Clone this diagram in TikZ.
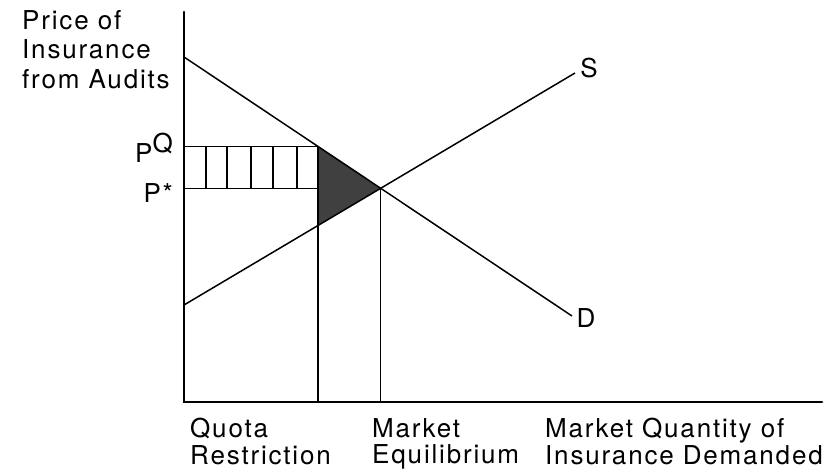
\documentclass[tikz,border=0pt]{standalone}
\usepackage{fontspec}
\setmainfont{TeX Gyre Heros}[LetterSpace=7]
\begin{document}
\begin{tikzpicture}[x=1pt, y=-1pt,
    font=\fontsize{26}{29.5}\selectfont,
    axis/.style={line width=2.6pt, line cap=round},
    curve/.style={line width=1.5pt},
    lbl/.style={inner sep=0pt, align=left},
    tag/.style={inner sep=0pt}
  ]
  \useasboundingbox (0,0) rectangle (835,470);

  % axes and curves
  \coordinate (top) at (184,12);
  \coordinate (origin) at (184,402);
  \coordinate (right) at (822,402);
  \coordinate (dA) at (184,57);
  \coordinate (dB) at (572,316);
  \coordinate (sA) at (184,305);
  \coordinate (sB) at (575,73);
  \coordinate (qx) at (318,0);
  \coordinate (eq) at (intersection of dA--dB and sA--sB);
  \coordinate (qt) at (intersection of dA--dB and qx--origin -| qx);
  \coordinate (qb) at (intersection of sA--sB and qx--origin -| qx);
  \coordinate (pq) at (origin |- qt);
  \coordinate (ps) at (origin |- eq);

  % deadweight triangle
  \fill[black!75] (qt) -- (eq) -- (qb) -- cycle;

  % quota rent box
  \draw[curve] (pq) -- (qt);
  \draw[curve] (ps) -- (ps -| qt);
  \foreach \x in {206,227,251,273,297} {
    \coordinate (h) at (\x,0);
    \draw[curve] (h |- qt) -- (h |- eq);
  }

  \draw[curve] (dA) -- (dB);
  \draw[curve] (sA) -- (sB);
  \draw[curve] (qt) -- (qt |- origin);
  \draw[curve] (eq) -- (eq |- origin);

  \draw[axis] (top) -- (origin) -- (right);

  % labels
  \node[lbl, anchor=north west] (ytitle) at (22,10) {Price of\\Insurance\\from Audits};
  \node[tag, anchor=base east] (pqlbl) at (173,163) {P\raisebox{10pt}{Q}};
  \node[tag, anchor=base east] (pslbl) at (173,203) {P*};
  \node[tag] (slbl) at (589,68) {S};
  \node[tag] (dlbl) at (586,318) {D};
  \node[lbl, anchor=north west, font=\fontsize{26}{26.5}\selectfont] (quota) at (190,418) {Quota\\Restriction};
  \node[lbl, anchor=north west, font=\fontsize{26}{26.5}\selectfont] (equil) at (372,418) {Market\\Equilibrium};
  \node[lbl, anchor=north west, font=\fontsize{26}{26.5}\selectfont] (qty) at (545,418) {Market Quantity of\\Insurance Demanded};
\end{tikzpicture}
\end{document}
